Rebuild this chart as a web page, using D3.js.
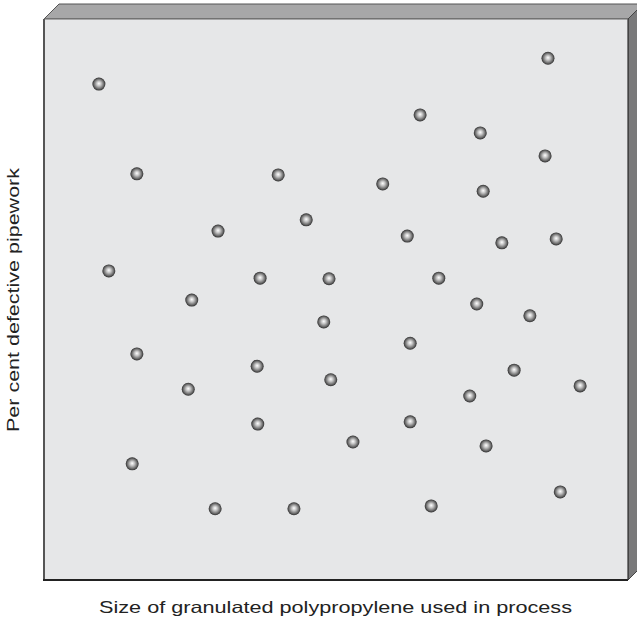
<!DOCTYPE html>
<html>
<head>
<meta charset="utf-8">
<script src="https://cdn.jsdelivr.net/npm/d3@7/dist/d3.min.js"></script>
<style>
  html, body { margin: 0; padding: 0; background: #fff; }
  svg { display: block; }
</style>
</head>
<body>
<svg id="chart" width="637" height="620"></svg>
<script>
// Granule size (x) against per cent defective pipework (y), arbitrary 0–100 units
const granuleSize = [
  9.4, 86.3, 64.4, 74.7, 85.8, 15.9, 40.1, 58.0, 75.2, 44.9,
  29.8, 62.2, 78.4, 87.7, 11.1, 37.0, 48.8, 67.6, 25.3, 74.1,
  83.2, 47.9, 62.7, 15.9, 36.5, 80.5, 49.1, 24.7, 91.8, 72.9,
  36.6, 62.7, 52.9, 75.7, 15.1, 88.4, 66.3, 29.3, 42.8
];
const defectivePct = [
  88.4, 93.0, 82.9, 79.7, 75.6, 72.4, 72.2, 70.6, 69.3, 64.2,
  62.2, 61.3, 60.1, 60.8, 55.1, 53.8, 53.7, 53.8, 49.9, 49.2,
  47.1, 46.0, 42.2, 40.3, 38.1, 37.4, 35.7, 34.0, 34.6, 32.8,
  27.8, 28.2, 24.6, 23.9, 20.7, 15.7, 13.2, 12.7, 12.7
];
const xTitle = "Size of granulated polypropylene used in process";
const yTitle = "Per cent defective pipework";

const svg = d3.select("#chart");
const face = { left: 44, right: 628, top: 19, bottom: 580 };
const depth = 15;

const x = d3.scaleLinear().domain([0, 100]).range([face.left, face.right]);
const y = d3.scaleLinear().domain([0, 100]).range([face.bottom, face.top]);

// Sphere shading
const defs = svg.append("defs");
const grad = defs.append("radialGradient")
  .attr("id", "ball").attr("cx", "50%").attr("cy", "50%").attr("r", "50%")
  .attr("fx", "50%").attr("fy", "45%");
grad.append("stop").attr("offset", "0%").attr("stop-color", "#ffffff");
grad.append("stop").attr("offset", "35%").attr("stop-color", "#c4c4c4");
grad.append("stop").attr("offset", "75%").attr("stop-color", "#6e6e6e");
grad.append("stop").attr("offset", "100%").attr("stop-color", "#2e2e2e");

// Box: top bevel, right side, then the front panel
svg.append("polygon")
  .attr("points", [
    [face.left, face.top], [face.left + depth, face.top - depth],
    [face.right + depth, face.top - depth], [face.right, face.top]
  ].map(p => p.join(",")).join(" "))
  .attr("fill", "#a7a7a8").attr("stroke", "#555").attr("stroke-width", 1);

svg.append("polygon")
  .attr("points", [
    [face.right, face.top], [face.right + depth, face.top - depth],
    [face.right + depth, face.bottom - depth], [face.right, face.bottom]
  ].map(p => p.join(",")).join(" "))
  .attr("fill", "#79797a").attr("stroke", "#444").attr("stroke-width", 1);

svg.append("rect")
  .attr("x", face.left).attr("y", face.top)
  .attr("width", face.right - face.left).attr("height", face.bottom - face.top)
  .attr("fill", "#e6e7e8");

// Panel edges
svg.append("line")
  .attr("x1", face.left).attr("y1", face.top).attr("x2", face.left).attr("y2", face.bottom)
  .attr("stroke", "#555").attr("stroke-width", 2);
svg.append("line")
  .attr("x1", face.left - 1).attr("y1", face.bottom).attr("x2", face.right).attr("y2", face.bottom)
  .attr("stroke", "#222").attr("stroke-width", 2);
svg.append("line")
  .attr("x1", face.right).attr("y1", face.top).attr("x2", face.right).attr("y2", face.bottom)
  .attr("stroke", "#333").attr("stroke-width", 1.2);
svg.append("line")
  .attr("x1", face.left).attr("y1", face.top).attr("x2", face.right).attr("y2", face.top)
  .attr("stroke", "#666").attr("stroke-width", 1);

// Points
svg.append("g").selectAll("circle")
  .data(granuleSize.map((v, i) => ({ x: v, y: defectivePct[i] })))
  .join("circle")
  .attr("cx", d => x(d.x))
  .attr("cy", d => y(d.y))
  .attr("r", 6.5)
  .attr("fill", "url(#ball)");

// Axis titles (wide lettering)
svg.append("text")
  .attr("x", 335.5).attr("y", 613)
  .attr("text-anchor", "middle")
  .attr("font-family", "Liberation Sans, Arial, sans-serif")
  .attr("font-size", 16.5).attr("fill", "#222")
  .attr("textLength", 473).attr("lengthAdjust", "spacingAndGlyphs")
  .text(xTitle);

svg.append("text")
  .attr("transform", `translate(19, 300) rotate(-90)`)
  .attr("text-anchor", "middle")
  .attr("font-family", "Liberation Sans, Arial, sans-serif")
  .attr("font-size", 16.5).attr("fill", "#222")
  .attr("textLength", 264).attr("lengthAdjust", "spacingAndGlyphs")
  .text(yTitle);
</script>
</body>
</html>
